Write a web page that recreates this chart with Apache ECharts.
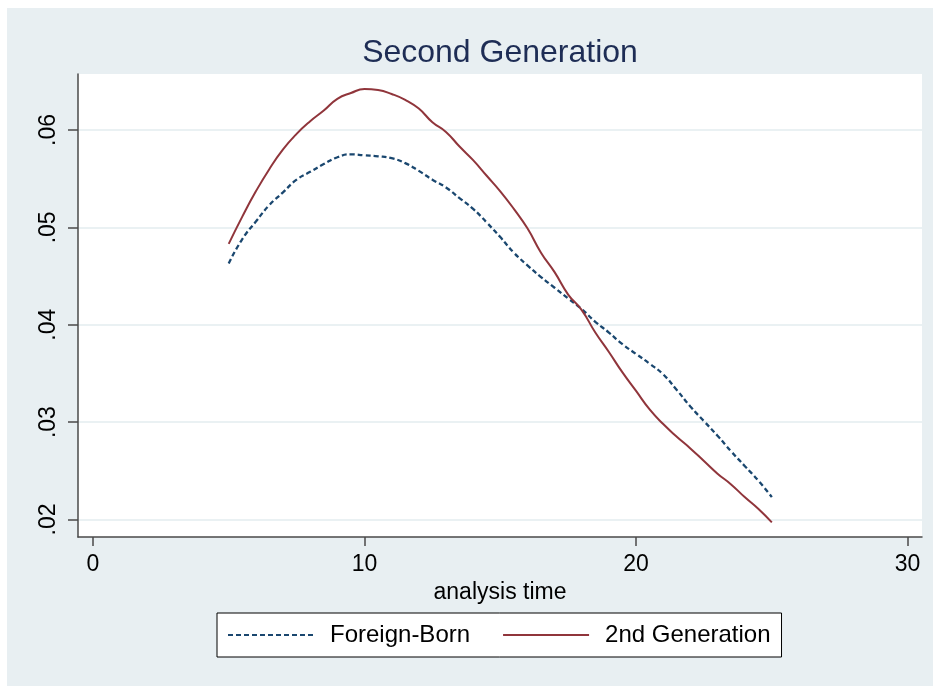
<!DOCTYPE html>
<html><head><meta charset="utf-8">
<script src="https://cdn.jsdelivr.net/npm/echarts@6/dist/echarts.min.js"></script>
<style>html,body{margin:0;padding:0;background:#fff}#c{width:933px;height:686px}</style>
</head><body><div id="c"></div>
<script>
const times = [5,5.5,6,6.5,7,7.5,8,8.5,9,9.5,10,10.5,11,11.5,12,12.5,13,13.5,14,14.5,15,15.5,16,16.5,17,17.5,18,18.5,19,19.5,20,20.5,21,21.5,22,22.5,23,23.5,24,24.5,25];
const foreignBorn = [0.0463,0.0488,0.0506,0.0523,0.0536,0.0549,0.0557,0.0565,0.0572,0.0575,0.0574,0.0573,0.0571,0.0566,0.0558,0.0549,0.0541,0.0530,0.0519,0.0505,0.0490,0.0474,0.0461,0.0449,0.0438,0.0427,0.0416,0.0403,0.0392,0.0380,0.0370,0.0360,0.0349,0.0333,0.0316,0.0301,0.0286,0.0270,0.0255,0.0240,0.0223];
const secondGen = [0.0483,0.0511,0.0537,0.0560,0.0580,0.0596,0.0609,0.0620,0.0632,0.0638,0.0642,0.0641,0.0637,0.0631,0.0622,0.0608,0.0598,0.0583,0.0569,0.0553,0.0537,0.0519,0.0499,0.0474,0.0454,0.0431,0.0415,0.0392,0.0372,0.0351,0.0332,0.0313,0.0298,0.0285,0.0273,0.0260,0.0247,0.0236,0.0223,0.0211,0.0197];
const xTicks = [0,10,20,30];
const yTicks = [0.02,0.03,0.04,0.05,0.06];
const seriesNames = ['Foreign-Born','2nd Generation'];
const titleText = 'Second Generation';
const xTitle = 'analysis time';

const FONT = 'Liberation Sans, Arial, sans-serif';
const chart = echarts.init(document.getElementById('c'), null, {renderer:'canvas'});
const pair = (xs, ys) => xs.map((x,i)=>[x, ys[i]]);
chart.setOption({
  backgroundColor: '#ffffff',
  animation: false,
  graphic: [{
    type: 'rect', z: -100, silent: true,
    shape: {x: 7, y: 8, width: 926, height: 678},
    style: {fill: '#e8eff2'}
  }],
  title: {
    text: titleText, left: 500, top: 37, textAlign: 'center', padding: 0,
    textStyle: {fontFamily: FONT, fontSize: 32, fontWeight: 'normal', color: '#1e2d55'}
  },
  legend: {
    data: seriesNames, left: 217, top: 613, orient: 'horizontal',
    backgroundColor: '#ffffff', borderColor: '#000000', borderWidth: 1,
    padding: [10, 11, 10, 10], itemGap: 32, itemWidth: 86, itemHeight: 2,
    itemStyle: {opacity: 0, color: 'transparent', borderWidth: 0},
    textStyle: {fontFamily: FONT, fontSize: 24, color: '#000', padding: [0,0,0,11]}
  },
  grid: {left: 78, top: 74, right: 11, bottom: 149, show: true, backgroundColor: '#ffffff', borderWidth: 0, containLabel: false},
  xAxis: {
    type: 'value', min: -0.55, max: 30.53,
    name: xTitle, nameLocation: 'middle', nameGap: 37,
    nameTextStyle: {fontFamily: FONT, fontSize: 23, color: '#000'},
    axisLine: {show: true, onZero: false, lineStyle: {color: '#4a4a4a', width: 1.5}},
    axisTick: {show: true, length: 9, inside: false, customValues: xTicks, lineStyle: {color: '#4a4a4a', width: 1.5}},
    axisLabel: {customValues: xTicks, margin: 16, fontFamily: FONT, fontSize: 23, color: '#000', formatter: v => String(v)},
    splitLine: {show: false}
  },
  yAxis: {
    type: 'value', min: 0.0182, max: 0.06575,
    axisLine: {show: true, onZero: false, lineStyle: {color: '#4a4a4a', width: 1.5}},
    axisTick: {show: true, length: 10, inside: false, customValues: yTicks, lineStyle: {color: '#4a4a4a', width: 1.5}},
    axisLabel: {customValues: yTicks, rotate: 90, margin: 18, fontFamily: FONT, fontSize: 23, color: '#000',
      formatter: v => v.toFixed(2).replace(/^0/, '')},
    splitLine: {show: true, lineStyle: {color: '#eaf1f3', width: 2}}
  },
  series: [
    {name: seriesNames[0], type: 'line', data: pair(times, foreignBorn), smooth: true, symbol: 'none',
      lineStyle: {color: '#1a476f', width: 2.3, type: [5, 3]}, itemStyle: {color: '#1a476f'}},
    {name: seriesNames[1], type: 'line', data: pair(times, secondGen), smooth: true, symbol: 'none',
      lineStyle: {color: '#90353b', width: 2}, itemStyle: {color: '#90353b'}}
  ]
});
</script></body></html>
